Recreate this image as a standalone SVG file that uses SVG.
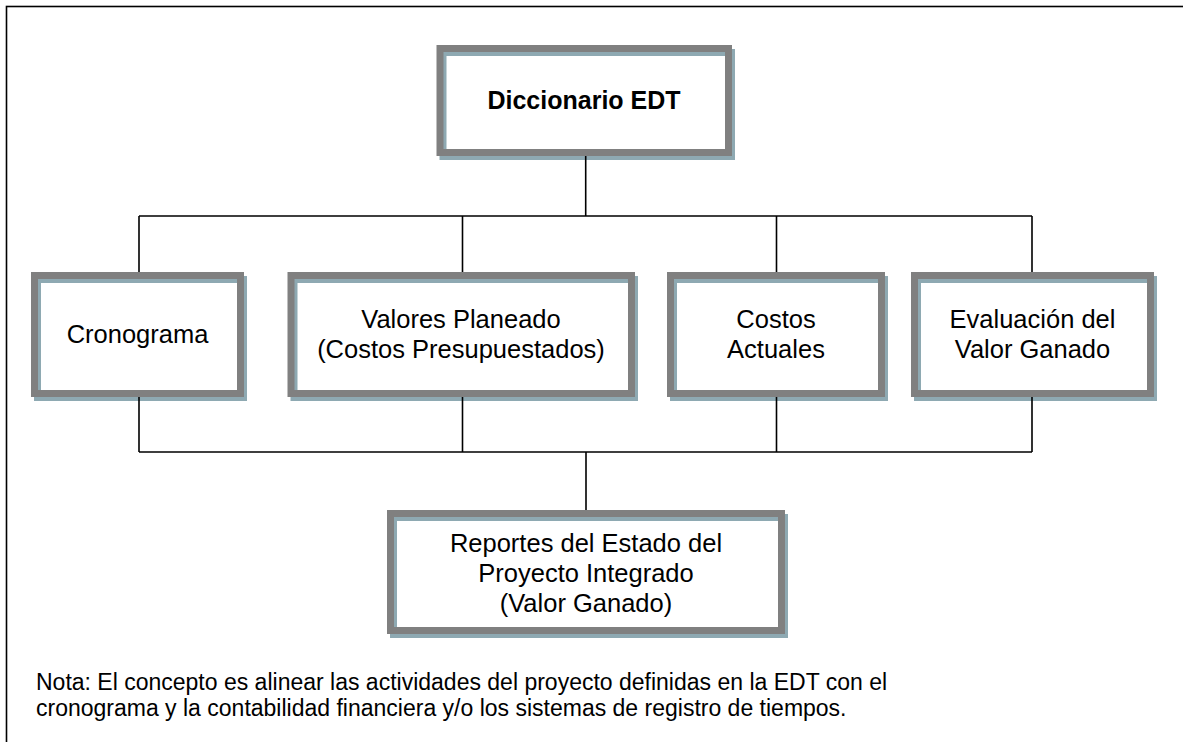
<svg xmlns="http://www.w3.org/2000/svg" width="1183" height="742" viewBox="0 0 1183 742">
<style>
.shadow{fill:#ffffff;stroke:#8EA9B2;stroke-width:7}
.frame{fill:none;stroke:#808080;stroke-width:7}
.lbl{font-family:"Liberation Sans",Arial,sans-serif;font-size:25.5px;fill:#000;text-anchor:middle}
.bold{font-weight:bold;font-size:25px}
.note{font-family:"Liberation Sans",Arial,sans-serif;font-size:23px;fill:#000}
.conn{stroke:#000;stroke-width:1.6;fill:none}
</style>
<rect x="6.5" y="6.5" width="1300" height="900" fill="#fff" stroke="#000" stroke-width="1.6"/>
<g id="n-diccionario">
<rect class="shadow" x="443" y="52.5" width="288.5" height="104"/>
<rect class="frame" x="440" y="48.5" width="288.5" height="104"/>
<text class="lbl bold" x="584" y="108.5">Diccionario EDT</text>
</g>
<g id="n-cronograma">
<rect class="shadow" x="37.5" y="279.5" width="206" height="118"/>
<rect class="frame" x="34.5" y="275.5" width="206" height="118"/>
<text class="lbl" x="137.5" y="343">Cronograma</text>
</g>
<g id="n-valores">
<rect class="shadow" x="294" y="279.5" width="340.5" height="118"/>
<rect class="frame" x="291" y="275.5" width="340.5" height="118"/>
<text class="lbl" x="461" y="328">Valores Planeado</text>
<text class="lbl" x="461" y="358">(Costos Presupuestados)</text>
</g>
<g id="n-costos">
<rect class="shadow" x="673.5" y="279.5" width="211" height="118"/>
<rect class="frame" x="670.5" y="275.5" width="211" height="118"/>
<text class="lbl" x="776" y="328">Costos</text>
<text class="lbl" x="776" y="358">Actuales</text>
</g>
<g id="n-evaluacion">
<rect class="shadow" x="917.5" y="279.5" width="236" height="118"/>
<rect class="frame" x="914.5" y="275.5" width="236" height="118"/>
<text class="lbl" x="1032.5" y="328">Evaluación del</text>
<text class="lbl" x="1032.5" y="358">Valor Ganado</text>
</g>
<g id="n-reportes">
<rect class="shadow" x="393.5" y="517.5" width="391" height="117"/>
<rect class="frame" x="390.5" y="513.5" width="391" height="117"/>
<text class="lbl" x="586" y="551.7">Reportes del Estado del</text>
<text class="lbl" x="586" y="581.7">Proyecto Integrado</text>
<text class="lbl" x="586" y="611.7">(Valor Ganado)</text>
</g>
<g id="connectors">
<path class="conn" d="M585.7 156 V216 M139 216 H1032 M139 216 V272 M462.5 216 V272 M776.5 216 V272 M1032 216 V272"/>
<path class="conn" d="M139 397 V452 M462.5 397 V452 M776.5 397 V452 M1032 397 V452 M139 452 H1032 M586 452 V510"/>
</g>
<g id="note">
<text class="note" x="36" y="690">Nota: El concepto es alinear las actividades del proyecto definidas en la EDT con el</text>
<text class="note" x="36" y="716">cronograma y la contabilidad financiera y/o los sistemas de registro de tiempos.</text>
</g>
</svg>
